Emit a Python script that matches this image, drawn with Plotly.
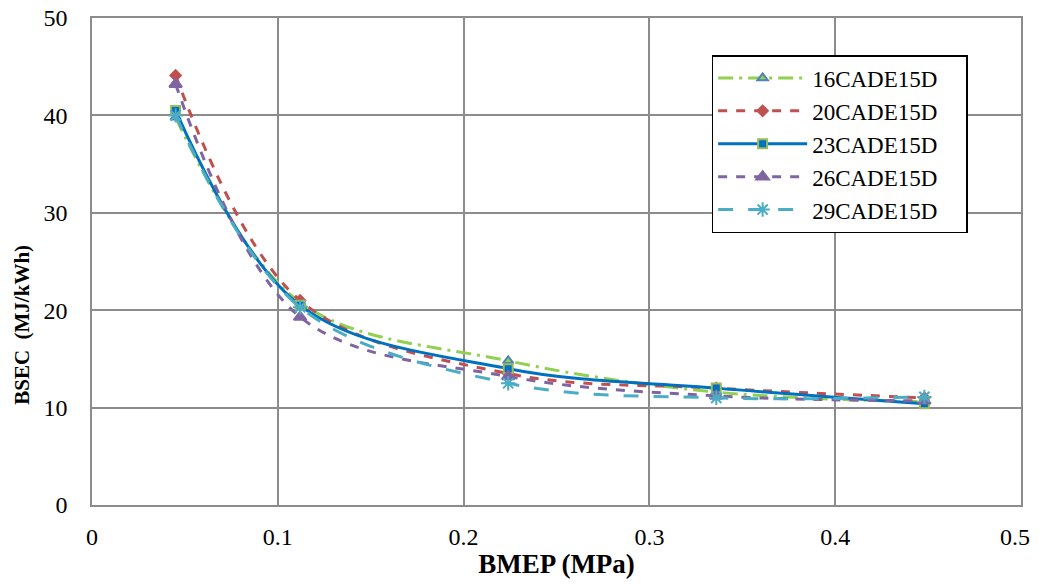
import plotly.graph_objects as go

bmep = [0.045, 0.112, 0.224, 0.336, 0.448]
s16 = [39.8, 20.8, 14.8, 11.6, 10.6]
s20 = [44.1, 21.0, 13.5, 12.0, 11.0]
s23 = [40.5, 20.5, 14.0, 12.0, 10.4]
s26 = [43.2, 19.3, 13.2, 11.2, 10.7]
s29 = [40.0, 20.3, 12.5, 11.0, 11.1]
names = ["16CADE15D", "20CADE15D", "23CADE15D", "26CADE15D", "29CADE15D"]
x_ticks = [0, 0.1, 0.2, 0.3, 0.4, 0.5]
x_ticktext = ["0", "0.1", "0.2", "0.3", "0.4", "0.5\u00a0\u00a0"]

styles = [
    dict(color="#92D050", dash="longdashdot", sym="triangle-up", mcolor="#92D050", mline="#4F81BD", msize=9),
    dict(color="#C0504D", dash="dash", sym="diamond", mcolor="#C0504D", mline="#C0504D", msize=8),
    dict(color="#0070C0", dash="solid", sym="square", mcolor="#0070C0", mline="#9BBB59", msize=9),
    dict(color="#8064A2", dash="dash", sym="triangle-up", mcolor="#8064A2", mline="#8064A2", msize=11),
    dict(color="#4BACC6", dash="longdash", sym="asterisk-open", mcolor="#4BACC6", mline="#4BACC6", msize=12),
]

PAD = "\u00a0" * 4  # right padding inside the legend box

fig = go.Figure()
for name, ys, st in zip(names, [s16, s20, s23, s26, s29], styles):
    fig.add_trace(go.Scatter(
        x=bmep, y=ys, name=name + PAD, mode="lines+markers",
        line=dict(color=st["color"], dash=st["dash"], width=3, shape="spline", smoothing=1.0),
        marker=dict(symbol=st["sym"], size=st["msize"], color=st["mcolor"],
                    line=dict(color=st["mline"], width=2)),
    ))

axis_font = dict(family="Liberation Serif", size=24, color="black")
fig.update_layout(
    width=1031, height=571,
    margin=dict(l=84, r=18, t=10, b=74, autoexpand=False),
    paper_bgcolor="white", plot_bgcolor="white",
    font=dict(family="Liberation Serif", size=24, color="black"),
    showlegend=True,
    legend=dict(x=0.667, y=0.924, xanchor="left", yanchor="top",
                bgcolor="white", bordercolor="black", borderwidth=1.5,
                font=dict(family="Liberation Serif", size=23, color="black"),
                itemwidth=89, tracegroupgap=0),
    xaxis=dict(range=[0, 0.5], tickvals=x_ticks, ticktext=x_ticktext, showgrid=True,
               gridcolor="#8c8c8c", gridwidth=1.5, showline=True, linecolor="#8c8c8c",
               linewidth=1.5, mirror=True, zeroline=False, ticks="", automargin=False,
               tickfont=axis_font, ticklabelstandoff=9, ticklabeloverflow="allow",
               title=dict(text="<b>BMEP (MPa)</b>", font=dict(family="Liberation Serif", size=27),
                          standoff=16)),
    yaxis=dict(range=[0, 50], dtick=10, showgrid=True, gridcolor="#8c8c8c", gridwidth=1.5,
               showline=True, linecolor="#8c8c8c", linewidth=1.5, mirror=True, zeroline=False,
               ticks="", tickfont=axis_font, automargin=False, ticklabelstandoff=18,
               ticklabeloverflow="allow"),
    annotations=[dict(text="<b>BSEC  (MJ/kWh)</b>", textangle=-90, xref="paper", yref="paper",
                      x=0, y=0.37, xshift=-70, xanchor="center", yanchor="middle",
                      showarrow=False, font=dict(family="Liberation Serif", size=21, color="black"))],
)

fig.write_html("out.html")
